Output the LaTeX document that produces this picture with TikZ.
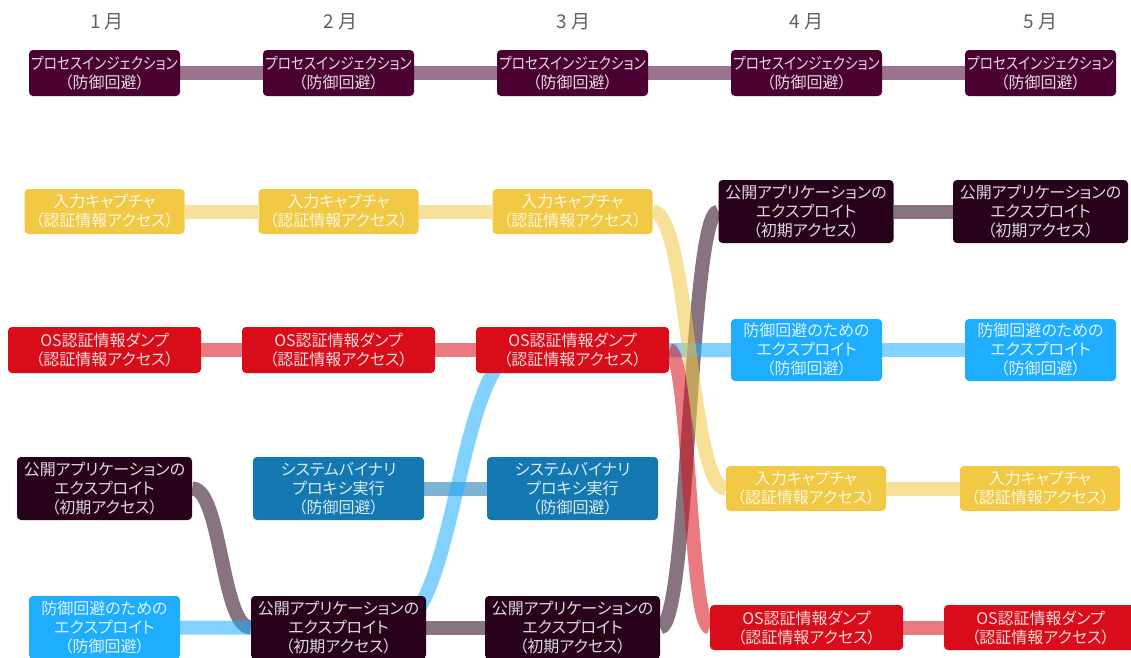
\documentclass[tikz,border=0pt]{standalone}
\usepackage{fontspec}
\setmainfont{Noto Sans CJK JP}[RawFeature=+palt]
\usetikzlibrary{calc}
\pgfdeclarelayer{bg}
\pgfsetlayers{bg,main}
\definecolor{cPI}{HTML}{4B0032}
\definecolor{cIC}{HTML}{F2C944}
\definecolor{cOS}{HTML}{D80D19}
\definecolor{cEX}{HTML}{27001A}
\definecolor{cDE}{HTML}{1EADFF}
\definecolor{cSB}{HTML}{1478B3}
\tikzset{
  box/.style={rounded corners=4pt, fill=#1, text=white, text opacity=0.85, align=center,
    font=\fontsize{16}{19}\selectfont, inner sep=0pt, anchor=center},
  link/.style={draw=#1, line width=14pt, draw opacity=0.55},
  monthlabel/.style={text=black!62, font=\fontsize{19}{20}\selectfont},
}
\newcommand\curvelink[3]{\draw[link=#1] let \p1=(#2.east), \p2=(#3.west) in
  (\p1) .. controls ({(\x1+\x2)/2},\y1) and ({(\x1+\x2)/2},\y2) .. (\p2);}
\newcommand\narrow[1]{\scalebox{0.85}[1]{#1}}
\begin{document}
\begin{tikzpicture}[x=1pt,y=-1pt]
\useasboundingbox (0,0) rectangle (1131,657);
% month labels
\node[monthlabel] (m1) at (107,22) {1 月};
\node[monthlabel] (m2) at (340.5,22) {2 月};
\node[monthlabel] (m3) at (573.5,22) {3 月};
\node[monthlabel] (m4) at (806.5,22) {4 月};
\node[monthlabel] (m5) at (1040.5,22) {5 月};
% row 1
\foreach \i/\x in {1/104.5,2/338.5,3/572.5,4/806.5,5/1040.5}
  \node[box=cPI, minimum width=151pt, minimum height=46pt] (pi\i) at (\x,73) {\narrow{プロセスインジェクション}\\（防御回避）};
% row 2
\foreach \i/\x in {1/104.5,2/338.5,3/572.5}
  \node[box=cIC, minimum width=160pt, minimum height=45pt] (ic\i) at (\x,211.5) {入力キャプチャ\\（認証情報アクセス）};
\foreach \i/\x in {4/806,5/1040.5}
  \node[box=cEX, minimum width=175pt, minimum height=63pt] (ex\i) at (\x,211.5) {公開アプリケーションの\\エクスプロイト\\（初期アクセス）};
% row 3
\foreach \i/\x in {1/104.5,2/338.5,3/572.5}
  \node[box=cOS, minimum width=193pt, minimum height=46pt] (os\i) at (\x,350) {OS認証情報ダンプ\\（認証情報アクセス）};
\foreach \i/\x in {4/806.5,5/1040.5}
  \node[box=cDE, minimum width=151pt, minimum height=62pt] (de\i) at (\x,350) {防御回避のための\\エクスプロイト\\（防御回避）};
% row 4
\node[box=cEX, minimum width=175pt, minimum height=63pt] (ex1) at (104.5,488.5) {公開アプリケーションの\\エクスプロイト\\（初期アクセス）};
\foreach \i/\x in {2/338.5,3/572.5}
  \node[box=cSB, minimum width=171pt, minimum height=63pt] (sb\i) at (\x,488.5) {システムバイナリ\\プロキシ実行\\（防御回避）};
\foreach \i/\x in {4/806,5/1040}
  \node[box=cIC, minimum width=160pt, minimum height=45pt] (ic\i) at (\x,488.5) {入力キャプチャ\\（認証情報アクセス）};
% row 5
\node[box=cDE, minimum width=151pt, minimum height=63pt] (de1) at (104.5,627.5) {防御回避のための\\エクスプロイト\\（防御回避）};
\foreach \i/\x in {2/338.5,3/572.5}
  \node[box=cEX, minimum width=175pt, minimum height=63pt] (ex\i) at (\x,627.5) {公開アプリケーションの\\エクスプロイト\\（初期アクセス）};
\foreach \i/\x in {4/806.5,5/1040.5}
  \node[box=cOS, minimum width=193pt, minimum height=45pt] (os\i) at (\x,627.5) {OS認証情報ダンプ\\（認証情報アクセス）};
\coordinate (bq1) at (392,627.5);
\coordinate (bq2) at (522,350);
% links
\begin{pgfonlayer}{bg}
\fill[white] (0,0) rectangle (1131,657);
\draw[link=cPI] (pi1.east) -- (pi2.west);
\draw[link=cPI] (pi2.east) -- (pi3.west);
\draw[link=cPI] (pi3.east) -- (pi4.west);
\draw[link=cPI] (pi4.east) -- (pi5.west);
\draw[link=cIC] (ic1.east) -- (ic2.west);
\draw[link=cIC] (ic2.east) -- (ic3.west);
\draw[link=cIC] (ic4.east) -- (ic5.west);
\draw[link=cOS] (os1.east) -- (os2.west);
\draw[link=cOS] (os2.east) -- (os3.west);
\draw[link=cOS] (os4.east) -- (os5.west);
\draw[link=cEX] (ex4.east) -- (ex5.west);
\draw[link=cEX] (ex2.east) -- (ex3.west);
\draw[link=cDE] (de4.east) -- (de5.west);
\draw[link=cSB] (sb2.east) -- (sb3.west);
\curvelink{cEX}{ex1}{ex2}
\curvelink{cEX}{ex3}{ex4}
\draw[link=cDE] let \p1=(bq1), \p2=(bq2) in
  (de1.east) -- (\p1) .. controls ({(\x1+\x2)/2},\y1) and ({(\x1+\x2)/2},\y2) .. (\p2) -- (de4.west);
\curvelink{cIC}{ic3}{ic4}
\curvelink{cOS}{os3}{os4}
\end{pgfonlayer}
\end{tikzpicture}
\end{document}
